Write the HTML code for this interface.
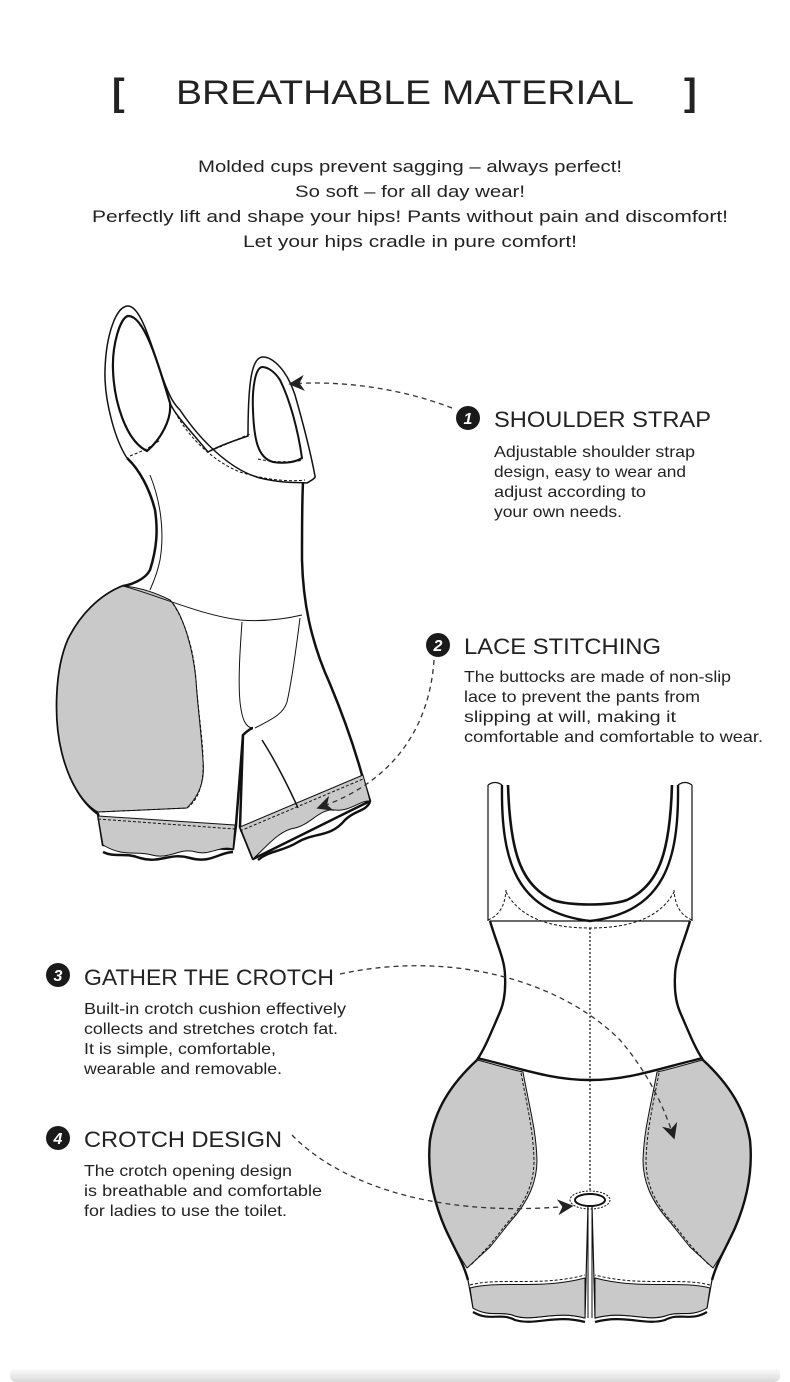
<!DOCTYPE html>
<html><head><meta charset="utf-8"><style>
html,body{margin:0;padding:0;background:#fff}
svg{display:block}
text{font-family:"Liberation Sans",sans-serif;fill:#222}
.h{font-size:22px}
.d{font-size:16px}
.s{font-size:17px}
</style></head><body>
<svg width="790" height="1382" viewBox="0 0 790 1382" xmlns="http://www.w3.org/2000/svg">
<defs>
<linearGradient id="sh" x1="0" y1="0" x2="0" y2="1"><stop offset="0" stop-color="#fff"/><stop offset="1" stop-color="#d8d8d8"/></linearGradient>
<marker id="ah" viewBox="0 0 10 10" refX="9" refY="5" markerWidth="16" markerHeight="16" markerUnits="userSpaceOnUse" orient="auto"><path d="M0,0 L10,5 L0,10 L3,5 z" fill="#222"/></marker>
</defs>
<rect x="10" y="1368" width="770" height="14" fill="url(#sh)" rx="6"/>

<text x="112" y="105" font-size="38" font-weight="bold">[</text>
<text x="684" y="105" font-size="38" font-weight="bold">]</text>
<text x="176" y="104" font-size="34" textLength="458" lengthAdjust="spacingAndGlyphs">BREATHABLE MATERIAL</text>
<text class="s" x="198" y="172" textLength="424" lengthAdjust="spacingAndGlyphs">Molded cups prevent sagging – always perfect!</text>
<text class="s" x="295" y="197" textLength="230" lengthAdjust="spacingAndGlyphs">So soft – for all day wear!</text>
<text class="s" x="92" y="222" textLength="636" lengthAdjust="spacingAndGlyphs">Perfectly lift and shape your hips! Pants without pain and discomfort!</text>
<text class="s" x="243" y="247" textLength="334" lengthAdjust="spacingAndGlyphs">Let your hips cradle in pure comfort!</text>

<g stroke="#111" fill="none" stroke-linejoin="round">
<path d="M127,458 C115,440 104,400 105,370 C106,335 116,306 128,306 C140,306 150,340 160,370 C170,400 175,405 180,410 C200,440 230,470 260,478 C285,484 300,482 307,483 C312,480 316,478 315,476 C312,460 305,430 295,395 C285,365 270,357 263,357 C252,357 248,380 248,436 C230,442 215,448 208,452 C190,430 175,415 170,403" fill="#fff" stroke-width="1.5"/>
<path d="M128,316 C120,318 112,345 113,370 C114,400 125,440 147,451 C160,440 172,420 170,403 C160,370 145,315 128,316 z" fill="#fff" stroke-width="2.2"/>
<path d="M262,367 C255,368 252,390 253,410 C254,440 258,458 273,462 C285,464 296,462 302,458 C298,430 290,400 280,380 C275,372 268,367 262,367 z" fill="#fff" stroke-width="2"/>
<path d="M127,458 C140,470 150,490 155,510 C158,530 157,548 150,570 C145,580 130,585 123,586 C100,595 80,615 68,640 C55,670 54,720 62,752 C70,785 85,805 98,814 L103,845 L233,849 L236,825 L243,735" fill="#fff" stroke-width="2.5"/>
<path d="M303,483 C302,500 302,520 302,560 C303,600 310,640 330,684 C345,720 355,750 362,775 L370,801 L253,859 L240,827 L243,735 C248,730 252,728 253,728" fill="#fff" stroke-width="2.5"/>
<path d="M123,586 C100,595 80,615 68,640 C55,670 54,720 62,752 C70,785 85,805 98,812 L187,808 C200,795 205,780 203,760 C201,730 197,700 196,680 C192,640 180,610 170,600 C150,590 135,587 123,586 z" fill="#c9c9c9" stroke-width="1"/>
<path d="M170,600 C180,612 193,640 196,680 C198,710 203,740 203,760 C204,785 198,800 187,808 L98,812" stroke-dasharray="3,2" stroke-width="1"/>
<path d="M123,586 C160,596 200,615 240,620 C265,622 285,619 302,615" stroke-width="1"/>
<path d="M98,816 L235,825 L233,849 C220,845 210,856 196,852 C180,847 170,860 152,855 C135,850 125,858 103,845 z" fill="#c9c9c9" stroke-width="1"/>
<path d="M98,819 L235,829" stroke-dasharray="3,2" stroke-width="1"/>
<path d="M240,827 L363,775 L370,801 C360,800 350,812 335,810 C320,808 310,825 295,828 C280,830 268,845 253,859 z" fill="#c9c9c9" stroke-width="1"/>
<path d="M240,831 L363,779" stroke-dasharray="3,2" stroke-width="1"/>
<path d="M103,852 C115,858 125,852 140,858 C160,864 170,852 190,858 C210,864 220,852 233,852" stroke-width="2.5"/>
<path d="M258,860 C270,850 282,852 298,842 C315,832 330,838 345,820 C355,810 365,812 370,802" stroke-width="2.5"/>
<path d="M242,622 C240,650 238,680 240,702 C242,720 246,728 253,728" stroke-width="1"/>
<path d="M300,618 C296,650 292,680 287,702 C283,715 270,720 255,728" stroke-width="1"/>
<path d="M262,740 C275,760 290,790 298,808" stroke-width="1.5"/>
<path d="M150,475 C160,500 165,530 160,560 C157,575 152,585 150,590" stroke-width="1"/>
<path d="M130,456 C140,452 150,448 160,440 M175,412 C190,440 215,462 240,472 C265,480 290,482 305,480 M210,451 C225,445 240,438 250,434 M258,459 C270,462 290,463 303,460" stroke-dasharray="3,2" stroke-width="1"/>
</g>

<g stroke="#111" fill="none" stroke-linejoin="round">
<path d="M490,921 C497,945 505,960 505,976 C506,995 503,1005 500,1012 C490,1035 485,1048 477,1060 C450,1085 435,1110 430,1140 C427,1170 433,1200 445,1228 C455,1250 463,1262 468,1280 L473,1308 C490,1318 500,1310 515,1316 C535,1322 555,1310 585,1318 L588,1205 L592,1205 L595,1318 C625,1310 645,1322 665,1316 C680,1310 690,1318 707,1308 L712,1280 C717,1262 725,1250 735,1228 C747,1200 753,1170 750,1140 C745,1110 730,1085 703,1060 C695,1048 690,1035 680,1012 C677,1005 674,995 675,976 C675,960 683,945 690,921 z" fill="#fff" stroke-width="1.2"/>
<path d="M477,1060 C450,1085 435,1110 430,1140 C427,1170 433,1200 445,1228 C455,1250 463,1262 467,1268 L490,1247 C500,1235 505,1228 510,1222 C530,1200 537,1180 537,1160 C536,1130 530,1110 523,1072 C505,1068 490,1063 477,1060 z" fill="#c9c9c9" stroke-width="1"/>
<path d="M703,1060 C730,1085 745,1110 750,1140 C753,1170 747,1200 735,1228 C725,1250 717,1262 713,1268 L690,1247 C680,1235 675,1228 670,1222 C650,1200 643,1180 643,1160 C644,1130 650,1110 657,1072 C675,1068 690,1063 703,1060 z" fill="#c9c9c9" stroke-width="1"/>
<path d="M521,1073 C528,1110 533,1130 534,1160 C534,1180 528,1200 508,1222 C500,1232 494,1240 488,1247 L470,1266 M659,1073 C652,1110 647,1130 646,1160 C646,1180 652,1200 672,1222 C680,1232 686,1240 692,1247 L710,1266" stroke-dasharray="3,2" stroke-width="1"/>
<path d="M477,1060 C450,1085 435,1110 430,1140 C427,1170 433,1200 445,1228 C455,1250 463,1262 468,1280 M703,1060 C730,1085 745,1110 750,1140 C753,1170 747,1200 735,1228 C725,1250 717,1262 712,1280 M490,921 C497,945 505,960 505,976 C506,995 503,1005 500,1012 C490,1035 485,1048 477,1060 M690,921 C683,945 675,960 675,976 C674,995 677,1005 680,1012 C690,1035 695,1048 703,1060" stroke-width="2.4"/>
<path d="M470,1288 C500,1280 540,1290 585,1278 L585,1318 C555,1310 535,1322 515,1316 C500,1310 490,1318 473,1308 z M710,1288 C680,1280 640,1290 595,1278 L595,1318 C625,1310 645,1322 665,1316 C680,1310 690,1318 707,1308 z" fill="#c9c9c9" stroke-width="1"/>
<path d="M470,1285 C500,1277 540,1287 585,1275 M710,1285 C680,1277 640,1287 595,1275" stroke-dasharray="3,2" stroke-width="1"/>
<path d="M473,1312 C490,1322 500,1312 515,1320 C535,1326 555,1314 585,1322 M707,1312 C690,1322 680,1312 665,1320 C645,1326 625,1314 595,1322" stroke-width="2.2"/>
<path d="M477,1058 C520,1068 550,1080 590,1080 C630,1080 660,1068 703,1058" stroke-width="2.4"/>
<path d="M488,785 L488,921 M692,785 L692,921" stroke-width="1.2"/>
<path d="M488,785 Q495,780 502,785 M678,785 Q685,780 692,785" stroke-width="1.2"/>
<path d="M508,785 C510,850 520,885 553,900 C570,906 610,906 627,900 C660,885 670,850 672,785" stroke-width="2.6"/>
<path d="M502,785 C501,860 515,912 590,921 C665,912 679,860 678,785" stroke-width="2.4"/>
<path d="M488,920 C500,915 505,905 506,890 M692,920 C680,915 675,905 674,890 M506,892 C520,918 550,928 590,928 C630,928 660,918 674,892" stroke-dasharray="3,2" stroke-width="1"/>
<path d="M590,928 L590,1190" stroke-dasharray="2,2" stroke-width="1.2"/>
<ellipse cx="590" cy="1200" rx="20" ry="9" stroke-dasharray="2,1.5" stroke-width="1"/>
<ellipse cx="590" cy="1200" rx="15" ry="6" fill="#fff" stroke-width="2"/>
<path d="M588,1205 L588,1318 M592,1205 L592,1318" stroke-width="1"/>
</g>

<g stroke="#333" fill="none" stroke-width="1.3" stroke-dasharray="5,4">
<path d="M452,408 C400,388 340,380 290,384" marker-end="url(#ah)"/>
<path d="M434,660 C430,720 400,780 318,808" marker-end="url(#ah)"/>
<path d="M340,974 C450,950 560,980 620,1040 C650,1075 665,1110 674,1138" marker-end="url(#ah)"/>
<path d="M292,1135 C330,1175 420,1220 572,1206" marker-end="url(#ah)"/>
</g>

<g>
<circle cx="468" cy="418" r="12" fill="#1a1a1a"/><text x="468" y="424" text-anchor="middle" font-size="16" font-weight="bold" font-style="italic" style="fill:#fff">1</text>
<circle cx="438" cy="645" r="12" fill="#1a1a1a"/><text x="438" y="651" text-anchor="middle" font-size="16" font-weight="bold" font-style="italic" style="fill:#fff">2</text>
<circle cx="58" cy="975" r="12" fill="#1a1a1a"/><text x="58" y="981" text-anchor="middle" font-size="16" font-weight="bold" font-style="italic" style="fill:#fff">3</text>
<circle cx="58" cy="1138" r="12" fill="#1a1a1a"/><text x="58" y="1144" text-anchor="middle" font-size="16" font-weight="bold" font-style="italic" style="fill:#fff">4</text>
</g>
<text class="h" x="494" y="427" textLength="217" lengthAdjust="spacingAndGlyphs">SHOULDER STRAP</text>
<text class="d" x="494" y="457" textLength="201" lengthAdjust="spacingAndGlyphs">Adjustable shoulder strap</text>
<text class="d" x="494" y="477" textLength="192" lengthAdjust="spacingAndGlyphs">design, easy to wear and</text>
<text class="d" x="494" y="497" textLength="152" lengthAdjust="spacingAndGlyphs">adjust according to</text>
<text class="d" x="494" y="517" textLength="128" lengthAdjust="spacingAndGlyphs">your own needs.</text>

<text class="h" x="464" y="654" textLength="197" lengthAdjust="spacingAndGlyphs">LACE STITCHING</text>
<text class="d" x="464" y="682" textLength="267" lengthAdjust="spacingAndGlyphs">The buttocks are made of non-slip</text>
<text class="d" x="464" y="702" textLength="236" lengthAdjust="spacingAndGlyphs">lace to prevent the pants from</text>
<text class="d" x="464" y="722" textLength="212" lengthAdjust="spacingAndGlyphs">slipping at will, making it</text>
<text class="d" x="464" y="742" textLength="299" lengthAdjust="spacingAndGlyphs">comfortable and comfortable to wear.</text>

<text class="h" x="84" y="985" textLength="250" lengthAdjust="spacingAndGlyphs">GATHER THE CROTCH</text>
<text class="d" x="84" y="1014" textLength="262" lengthAdjust="spacingAndGlyphs">Built-in crotch cushion effectively</text>
<text class="d" x="84" y="1034" textLength="254" lengthAdjust="spacingAndGlyphs">collects and stretches crotch fat.</text>
<text class="d" x="84" y="1054" textLength="192" lengthAdjust="spacingAndGlyphs">It is simple, comfortable,</text>
<text class="d" x="84" y="1074" textLength="198" lengthAdjust="spacingAndGlyphs">wearable and removable.</text>

<text class="h" x="84" y="1147" textLength="198" lengthAdjust="spacingAndGlyphs">CROTCH DESIGN</text>
<text class="d" x="84" y="1176" textLength="208" lengthAdjust="spacingAndGlyphs">The crotch opening design</text>
<text class="d" x="84" y="1196" textLength="238" lengthAdjust="spacingAndGlyphs">is breathable and comfortable</text>
<text class="d" x="84" y="1216" textLength="203" lengthAdjust="spacingAndGlyphs">for ladies to use the toilet.</text>
</svg>
</body></html>
